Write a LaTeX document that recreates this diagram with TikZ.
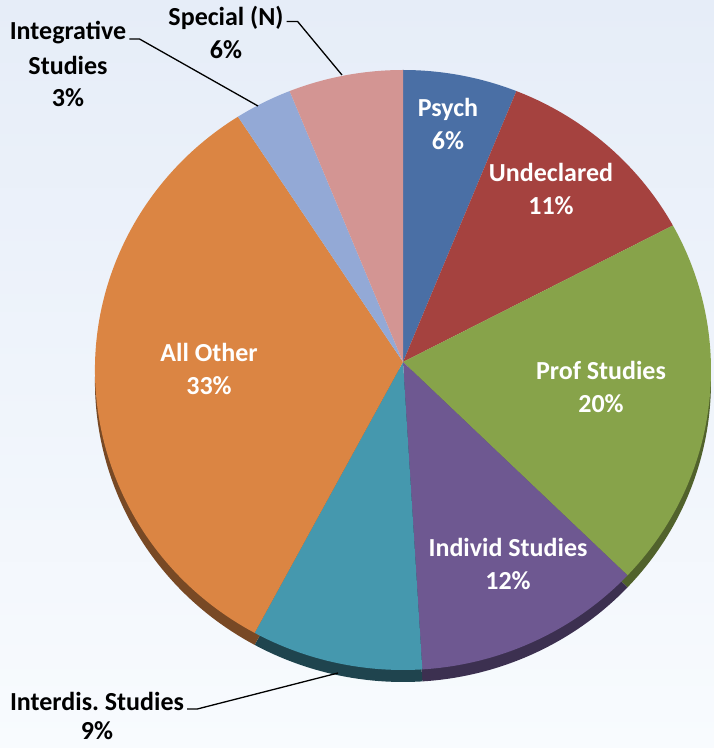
\documentclass[tikz,border=0pt]{standalone}
\usepackage{fontspec}
\setmainfont{Carlito}
\definecolor{bgtop}{HTML}{E6EDF8}
\definecolor{bgbot}{HTML}{F8FBFE}
\definecolor{psych}{HTML}{4A6FA5}
\definecolor{undecl}{HTML}{A5423F}
\definecolor{prof}{HTML}{87A34A}
\definecolor{individ}{HTML}{6E5891}
\definecolor{interdis}{HTML}{4598AE}
\definecolor{allother}{HTML}{DB8543}
\definecolor{integr}{HTML}{93A9D6}
\definecolor{special}{HTML}{D39593}
\tikzset{
  rad/.style={x radius=308pt,y radius=300pt},
  inlabel/.style={text=white,font=\fontsize{26}{33}\selectfont\bfseries,align=center},
  outlabel/.style={text=black,font=\fontsize{26}{33}\selectfont\bfseries,inner sep=0pt},
  leader/.style={black,line width=1.3pt}
}
\begin{document}
\begin{tikzpicture}[x=1pt,y=1pt]
\useasboundingbox (0,0) rectangle (714,748);
\shade[top color=bgtop,bottom color=bgbot] (0,0) rectangle (714,748);
\coordinate (c) at (403,386);
\coordinate (ec) at (403,378);
\coordinate (cs) at (403,374);
\coordinate (ecs) at (403,366);
% side of the pie
\fill[prof!60!black] (cs) -- ([shift={(28.8:308pt and 300pt)}]ecs) arc[rad,start angle=28.8,end angle=-43.2] -- cycle;
\fill[individ!55!black] (cs) -- ([shift={(-43.2:308pt and 300pt)}]ecs) arc[rad,start angle=-43.2,end angle=-86.4] -- cycle;
\fill[interdis!45!black] (cs) -- ([shift={(-86.4:308pt and 300pt)}]ecs) arc[rad,start angle=-86.4,end angle=-118.8] -- cycle;
\fill[allother!55!black] (cs) -- ([shift={(-118.8:308pt and 300pt)}]ecs) arc[rad,start angle=-118.8,end angle=-237.6] -- cycle;
% top of the pie
\fill[psych] (c) -- ([shift={(90:308pt and 300pt)}]ec) arc[rad,start angle=90,end angle=68.4] -- cycle;
\fill[undecl] (c) -- ([shift={(68.4:308pt and 300pt)}]ec) arc[rad,start angle=68.4,end angle=28.8] -- cycle;
\fill[prof] (c) -- ([shift={(28.8:308pt and 300pt)}]ec) arc[rad,start angle=28.8,end angle=-43.2] -- cycle;
\fill[individ] (c) -- ([shift={(-43.2:308pt and 300pt)}]ec) arc[rad,start angle=-43.2,end angle=-86.4] -- cycle;
\fill[interdis] (c) -- ([shift={(-86.4:308pt and 300pt)}]ec) arc[rad,start angle=-86.4,end angle=-118.8] -- cycle;
\fill[allother] (c) -- ([shift={(-118.8:308pt and 300pt)}]ec) arc[rad,start angle=-118.8,end angle=-237.6] -- cycle;
\fill[integr] (c) -- ([shift={(122.4:308pt and 300pt)}]ec) arc[rad,start angle=122.4,end angle=111.6] -- cycle;
\fill[special] (c) -- ([shift={(111.6:308pt and 300pt)}]ec) arc[rad,start angle=111.6,end angle=90] -- cycle;
% labels inside
\node[inlabel] (psychlbl) at (448,624) {Psych\\6\%};
\node[inlabel] (undecllbl) at (551,559) {Undeclared\\11\%};
\node[inlabel] (proflbl) at (601,361) {Prof Studies\\20\%};
\node[inlabel] (individlbl) at (508,184) {Individ Studies\\12\%};
\node[inlabel] (otherlbl) at (209,379) {All Other\\33\%};
% labels outside
\node[outlabel] (speclbl) at (226,730) {Special (N)};
\node[outlabel] (specpct) at (226,698) {6\%};
\node[outlabel] (intglbl) at (68,715) {Integrative};
\node[outlabel] (intgmid) at (68,683) {Studies};
\node[outlabel] (intgpct) at (68,650) {3\%};
\node[outlabel] (idislbl) at (97,47) {Interdis.\ Studies};
\node[outlabel] (idispct) at (97,17) {9\%};
\coordinate (spectip) at (342,673);
\coordinate (intgtip) at (258,642);
\coordinate (idistip) at (338,75);
\draw[leader] ([xshift=3pt,yshift=4pt]speclbl.base east) -- ++(11,0) -- (spectip);
\draw[leader] ([xshift=3pt,yshift=1pt]intglbl.base east) -- ++(10,0) -- (intgtip);
\draw[leader] ([xshift=3pt,yshift=1pt]idislbl.base east) -- ++(10,0) -- (idistip);
\end{tikzpicture}
\end{document}
